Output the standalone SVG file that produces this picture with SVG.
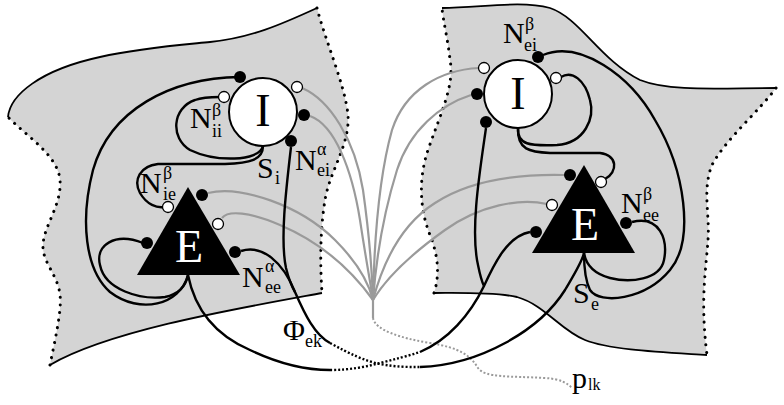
<svg xmlns="http://www.w3.org/2000/svg" width="784" height="405" viewBox="0 0 784 405">
<style>
.patch{fill:#d4d4d4;stroke:none}
.edge{fill:none;stroke:#000;stroke-width:1.8}
.dotedge{fill:none;stroke:#000;stroke-width:3;stroke-dasharray:0.1 7.5;stroke-linecap:round}
.ax{fill:none;stroke:#000;stroke-width:2.4}
.axd{fill:none;stroke:#000;stroke-width:2.4;stroke-dasharray:2 2}
.gr{fill:none;stroke:#9a9a9a;stroke-width:2.2}
.grd{fill:none;stroke:#9a9a9a;stroke-width:2;stroke-dasharray:2 2}
.bd{fill:#000}
.wd{fill:#fff;stroke:#000;stroke-width:1.3}
.cell{fill:#fff;stroke:#000;stroke-width:2}
.tri{fill:#000}
text{font-family:"Liberation Serif","Times New Roman",serif;fill:#000}
.big{font-size:30px}
.sm{font-size:18px}
.nl{font-size:46px;text-anchor:middle}
</style>

<g id="patch-left">
<path class="patch" d="M8,117 C10,95 40,70 100,57 C140,48 180,45 210,42 C250,38 280,25 317,8 C325,40 345,85 348,115 C350,145 330,170 325,200 C320,230 320,265 322,293 C240,308 110,330 50,365 C55,340 62,310 60,295 C58,275 42,262 43,245 C44,225 62,205 60,180 C58,155 25,135 8,117 Z"/>
<path class="edge" d="M8,117 C10,95 40,70 100,57 C140,48 180,45 210,42 C250,38 280,25 317,8"/>
<path class="edge" d="M322,293 C240,308 110,330 50,365"/>
<path class="dotedge" d="M317,8 C325,40 345,85 348,115 C350,145 330,170 325,200 C320,230 320,265 322,293"/>
<path class="dotedge" d="M50,365 C55,340 62,310 60,295 C58,275 42,262 43,245 C44,225 62,205 60,180 C58,155 25,135 8,117"/>
</g>

<g id="patch-right">
<path class="patch" d="M442,8 C480,8 520,0 550,8 C580,18 600,60 640,80 C670,92 720,88 776,88 C760,110 725,140 712,165 C702,190 710,215 708,240 C706,270 700,300 707,355 C660,352 610,350 585,340 C560,330 545,305 517,297 C495,292 460,293 434,293 C440,275 438,255 430,235 C420,210 418,180 428,150 C440,115 455,85 450,60 C448,40 443,20 442,8 Z"/>
<path class="edge" d="M442,8 C480,8 520,0 550,8 C580,18 600,60 640,80 C670,92 720,88 776,88"/>
<path class="edge" d="M707,355 C660,352 610,350 585,340 C560,330 545,305 517,297 C495,292 460,293 434,293"/>
<path class="dotedge" d="M776,88 C760,110 725,140 712,165 C702,190 710,215 708,240 C706,270 700,300 707,355"/>
<path class="dotedge" d="M434,293 C440,275 438,255 430,235 C420,210 418,180 428,150 C440,115 455,85 450,60 C448,40 443,20 442,8"/>
</g>

<g id="connectors">
<g id="gray-fan">
<path class="gr" d="M302,88 C330,100 355,140 363,190 C370,240 372,270 373,300"/>
<path class="gr" d="M310,116 C335,125 352,170 360,220 C366,260 370,280 373,300"/>
<path class="gr" d="M208,193 C240,185 300,205 335,240 C355,260 368,280 373,300"/>
<path class="gr" d="M222,218 C228,210 250,212 280,225 C320,242 350,268 373,300"/>
<path class="gr" d="M479,68 C440,70 405,90 392,130 C378,180 374,250 373,300"/>
<path class="gr" d="M471,95 C440,105 410,130 397,170 C383,215 376,260 373,300"/>
<path class="gr" d="M564,175 C520,174 470,180 435,203 C405,222 385,255 373,300"/>
<path class="gr" d="M547,204 C520,198 480,205 445,230 C410,255 385,280 373,300"/>
<path class="gr" d="M373,300 L373,318"/>
<path class="grd" d="M373,318 C375,330 400,338 430,343 C460,348 470,355 478,368 C485,378 510,376 545,378 C562,379 568,384 572,388"/>
</g>
<g id="black-axons">
<path class="ax" d="M240,77 C170,78 110,110 93,170 C80,220 85,270 110,292 C140,315 180,305 188,275"/>
<path class="ax" d="M143,243 C115,232 95,245 100,265 C105,290 140,300 165,297 C180,294 186,285 188,275"/>
<path class="ax" d="M263,146 C259,162 215,162 190,150 C170,138 172,108 195,100 C203,97 212,97 220,97"/>
<path class="ax" d="M263,146 C263,160 250,163 225,164 L158,164 C140,166 133,180 140,193 C147,205 157,208 164,207"/>
<path class="ax" d="M291,147 C286,190 280,240 286,268 C289,280 292,287 295,292"/>
<path class="ax" d="M241,251 C262,244 283,262 295,292 C305,315 315,335 330,343"/>
<path class="axd" d="M330,343 C350,354 365,361 380,364 C395,367 408,367 420,367"/>
<path class="ax" d="M420,367 C480,365 540,330 565,290 C575,273 582,262 584,253"/>
<path class="ax" d="M188,275 C195,310 215,335 250,350 C275,362 300,370 330,370"/>
<path class="axd" d="M330,370 C350,370 365,367 380,363 C395,359 408,356 420,352"/>
<path class="ax" d="M420,352 C448,340 470,315 484,286 C495,262 508,236 530,232"/>
<path class="ax" d="M486,128 C480,170 470,230 478,265 C480,275 482,282 484,286"/>
<path class="ax" d="M518,128 C517,145 530,146 557,145 C585,143 595,118 590,100 C585,80 572,70 561,77"/>
<path class="ax" d="M518,128 C517,150 530,152 550,153 L600,153 C618,155 618,172 605,179"/>
<path class="ax" d="M543,55 C580,40 630,75 655,120 C685,170 695,240 670,270 C645,300 600,305 590,290 C585,280 584,265 584,253"/>
<path class="ax" d="M632,222 C660,215 668,240 664,260 C660,280 630,283 610,278 C595,274 586,265 584,253"/>
</g>
</g>

<g id="I-left">
<circle class="cell" cx="263" cy="112" r="34"/>
<text class="nl" x="263" y="126">I</text>
<circle class="bd" cx="240" cy="77" r="6"/>
<circle class="wd" cx="224" cy="97" r="5.5"/>
<circle class="wd" cx="297" cy="87" r="5.5"/>
<circle class="bd" cx="304" cy="115" r="6"/>
<circle class="bd" cx="291" cy="141" r="6"/>
</g>

<g id="E-left">
<polygon class="tri" points="188,187 137,275 240,275"/>
<text class="nl" x="189" y="262" style="fill:#fff">E</text>
<circle class="wd" cx="168" cy="207" r="5.5"/>
<circle class="bd" cx="202" cy="195" r="6"/>
<circle class="wd" cx="218" cy="224" r="5.5"/>
<circle class="bd" cx="147" cy="243" r="6"/>
<circle class="bd" cx="235" cy="252" r="6"/>
</g>

<g id="I-right">
<circle class="cell" cx="518" cy="94" r="34"/>
<text class="nl" x="518" y="109">I</text>
<circle class="bd" cx="538" cy="57" r="6"/>
<circle class="wd" cx="484" cy="68" r="5.5"/>
<circle class="wd" cx="556" cy="78" r="5.5"/>
<circle class="bd" cx="477" cy="94" r="6"/>
<circle class="bd" cx="486" cy="122" r="6"/>
</g>

<g id="E-right">
<polygon class="tri" points="584,165 532,253 635,253"/>
<text class="nl" x="585" y="240" style="fill:#fff">E</text>
<circle class="bd" cx="570" cy="175" r="6"/>
<circle class="wd" cx="601" cy="182" r="5.5"/>
<circle class="wd" cx="552" cy="205" r="5.5"/>
<circle class="bd" cx="536" cy="232" r="6"/>
<circle class="bd" cx="626" cy="223" r="6"/>
</g>

<g id="labels">
<text><tspan class="big" x="190" y="128">N</tspan><tspan class="sm" x="212" y="116">β</tspan><tspan class="sm" x="212" y="137">ii</tspan></text>
<text><tspan class="big" x="257" y="178">S</tspan><tspan class="sm" x="275" y="184">i</tspan></text>
<text><tspan class="big" x="295" y="170">N</tspan><tspan class="sm" x="317" y="155">α</tspan><tspan class="sm" x="317" y="176">ei</tspan></text>
<text><tspan class="big" x="140" y="193">N</tspan><tspan class="sm" x="163" y="179">β</tspan><tspan class="sm" x="163" y="200">ie</tspan></text>
<text><tspan class="big" x="242" y="287">N</tspan><tspan class="sm" x="265" y="272">α</tspan><tspan class="sm" x="265" y="293">ee</tspan></text>
<text><tspan class="big" x="283" y="340">Φ</tspan><tspan class="sm" x="305" y="347">ek</tspan></text>
<text><tspan class="big" x="503" y="43">N</tspan><tspan class="sm" x="525" y="30">β</tspan><tspan class="sm" x="524" y="51">ei</tspan></text>
<text><tspan class="big" x="621" y="213">N</tspan><tspan class="sm" x="643" y="200">β</tspan><tspan class="sm" x="643" y="221">ee</tspan></text>
<text><tspan class="big" x="573" y="303">S</tspan><tspan class="sm" x="591" y="310">e</tspan></text>
<text><tspan class="big" x="572" y="388">p</tspan><tspan style="font-size:16px" x="588" y="390">lk</tspan></text>
</g>
</svg>
